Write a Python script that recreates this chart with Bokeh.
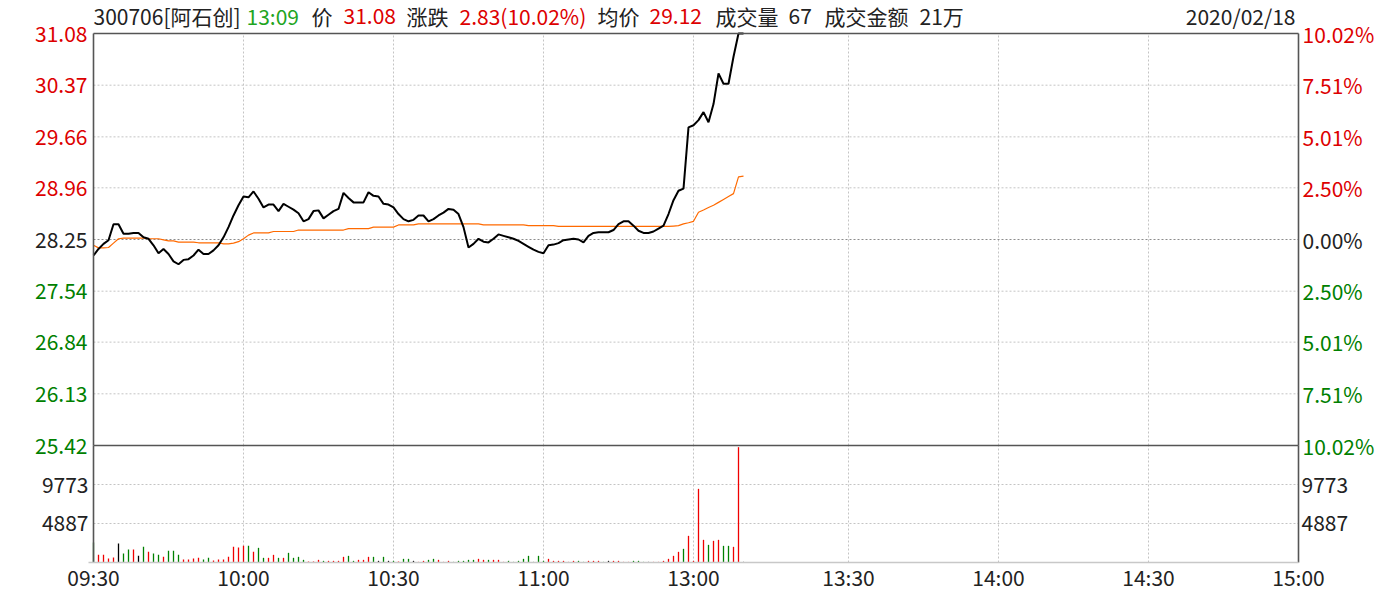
from bokeh.plotting import figure
from bokeh.models import Range1d, ColumnDataSource
from bokeh.core.properties import value
from bokeh.embed import file_html
from bokeh.resources import INLINE

# ---------------- data ----------------
prev_close = 28.25
price_ticks = [31.08, 30.37, 29.66, 28.96, 28.25, 27.54, 26.84, 26.13, 25.42]
price_labels = ["31.08", "30.37", "29.66", "28.96", "28.25", "27.54", "26.84", "26.13", "25.42"]
pct_labels = ["10.02%", "7.51%", "5.01%", "2.50%", "0.00%", "2.50%", "5.01%", "7.51%", "10.02%"]
label_tone = ["up", "up", "up", "up", "flat", "down", "down", "down", "down"]

vol_ticks = [4887, 9773]
vol_tick_labels = ["4887", "9773"]
vol_max = 14660

# minute-slot positions of the time labels (241 slots across the chart)
time_ticks = [0, 30, 60, 90, 120, 151, 181, 211, 241]
time_labels = ["09:30", "10:00", "10:30", "11:00", "13:00", "13:30", "14:00", "14:30", "15:00"]
n_slots = 241

price = [28.03, 28.12, 28.19, 28.24, 28.46, 28.46, 28.33, 28.33, 28.34, 28.34,
         28.28, 28.26, 28.17, 28.06, 28.12, 28.05, 27.95, 27.91, 27.97, 27.98,
         28.03, 28.11, 28.05, 28.05, 28.10, 28.17, 28.28, 28.42, 28.58, 28.72,
         28.84, 28.83, 28.91, 28.81, 28.69, 28.73, 28.73, 28.64, 28.74, 28.70,
         28.66, 28.61, 28.50, 28.53, 28.64, 28.65, 28.54, 28.59, 28.64, 28.67,
         28.89, 28.82, 28.76, 28.76, 28.76, 28.90, 28.85, 28.84, 28.74, 28.73,
         28.69, 28.60, 28.53, 28.50, 28.52, 28.58, 28.58, 28.50, 28.53, 28.58,
         28.62, 28.67, 28.66, 28.60, 28.42, 28.14, 28.19, 28.26, 28.22, 28.21,
         28.26, 28.32, 28.30, 28.28, 28.26, 28.23, 28.19, 28.15, 28.11, 28.08,
         28.06, 28.17, 28.18, 28.20, 28.24, 28.25, 28.26, 28.25, 28.21, 28.30,
         28.34, 28.35, 28.35, 28.35, 28.38, 28.46, 28.50, 28.50, 28.44, 28.37,
         28.34, 28.34, 28.36, 28.40, 28.44, 28.60, 28.79, 28.92, 28.95, 29.79,
         29.82, 29.89, 30.00, 29.86, 30.11, 30.53, 30.39, 30.39, 30.76, 31.08,
         31.08]

avg_price = [28.17, 28.135, 28.135, 28.14, 28.20, 28.26, 28.27, 28.27, 28.27, 28.27,
             28.27, 28.26, 28.26, 28.26, 28.245, 28.23, 28.23, 28.215, 28.215, 28.215,
             28.215, 28.205, 28.205, 28.205, 28.205, 28.205, 28.19, 28.19, 28.20, 28.22,
             28.26, 28.31, 28.34, 28.34, 28.34, 28.34, 28.36, 28.36, 28.36, 28.36,
             28.36, 28.38, 28.38, 28.38, 28.38, 28.38, 28.38, 28.38, 28.38, 28.38,
             28.38, 28.40, 28.40, 28.40, 28.40, 28.40, 28.42, 28.42, 28.42, 28.42,
             28.42, 28.45, 28.45, 28.45, 28.45, 28.465, 28.465, 28.465, 28.465, 28.465,
             28.465, 28.465, 28.465, 28.465, 28.465, 28.465, 28.465, 28.465, 28.45, 28.45,
             28.45, 28.45, 28.45, 28.45, 28.45, 28.45, 28.45, 28.44, 28.44, 28.44,
             28.44, 28.44, 28.44, 28.43, 28.43, 28.43, 28.43, 28.43, 28.43, 28.43,
             28.43, 28.43, 28.43, 28.43, 28.43, 28.43, 28.43, 28.43, 28.43, 28.43,
             28.43, 28.43, 28.43, 28.43, 28.43, 28.43, 28.435, 28.44, 28.465, 28.48,
             28.50, 28.625, 28.655, 28.69, 28.72, 28.76, 28.80, 28.84, 28.88, 29.11,
             29.12]

volume = [2506, 960, 960, 500, 627, 2380, 1128, 1630, 1630, 835,
          1963, 1337, 1128, 960, 710, 1462, 1462, 960, 376, 376,
          500, 585, 376, 585, 250, 376, 376, 710, 1963, 1880,
          2088, 2088, 1337, 1838, 585, 585, 960, 585, 585, 1211,
          585, 710, 334, 125, 125, 334, 209, 209, 209, 209,
          710, 835, 209, 334, 334, 710, 710, 209, 710, 209,
          209, 125, 459, 459, 209, 84, 209, 334, 459, 334,
          84, 209, 84, 209, 209, 334, 334, 459, 334, 334,
          334, 334, 84, 209, 84, 209, 459, 835, 84, 835,
          209, 459, 209, 209, 209, 84, 209, 209, 84, 209,
          209, 209, 84, 209, 209, 209, 84, 84, 209, 209,
          84, 84, 84, 84, 209, 459, 835, 1337, 1713, 3341,
          209, 9230, 2840, 2213, 2715, 2840, 2088, 2088, 1963, 14450,
          84]

vol_dir = ["g", "r", "r", "r", "r", "k", "g", "g", "r", "k",
           "g", "r", "g", "g", "r", "g", "g", "g", "r", "r",
           "r", "r", "g", "g", "r", "r", "r", "r", "r", "r",
           "r", "g", "r", "g", "g", "r", "r", "g", "r", "g",
           "g", "g", "g", "r", "r", "r", "g", "r", "r", "r",
           "r", "g", "g", "r", "r", "r", "g", "k", "g", "k",
           "g", "r", "g", "g", "k", "r", "r", "g", "g", "r",
           "r", "r", "g", "g", "g", "g", "g", "r", "r", "g",
           "r", "r", "r", "g", "g", "g", "g", "g", "g", "g",
           "g", "r", "r", "r", "r", "r", "r", "g", "g", "r",
           "r", "r", "g", "k", "r", "r", "r", "r", "g", "g",
           "g", "k", "r", "r", "r", "r", "r", "r", "g", "r",
           "r", "r", "r", "g", "r", "r", "g", "g", "r", "r",
           "k"]

header_parts = ["300706[阿石创]", "13:09", "价", "31.08", "涨跌", "2.83(10.02%)",
                "均价", "29.12", "成交量", "67", "成交金额", "21万"]
header_tone = ["dark", "time", "dark", "up", "dark", "up",
               "dark", "up", "dark", "dark", "dark", "dark"]
date_text = "2020/02/18"

# ---------------- style / layout ----------------
FONT = value("Noto Sans CJK SC")
FS = value("21px")
RED = "#DD0000"
GREEN = "#008000"
DARK = "#222222"
TIME_GREEN = "#1FA51F"
AXIS = "#555555"
GRID = "#C4C4C4"
tone_color = {"up": RED, "down": GREEN, "flat": DARK, "dark": DARK, "time": TIME_GREEN}
bar_color = {"r": "#F00000", "g": "#008000", "k": "#000000"}
header_px = [93, 246, 311, 343, 406, 459, 597, 649, 715, 788, 824, 919]

W, H = 1385, 592
L, R = 93, 1298               # chart left / right (px)
TOP, SEP, BOT = 33, 445, 562  # price top, panel separator, volume bottom (px)

price_top, price_low = price_ticks[0], price_ticks[-1]
X_END = n_slots
ppm = (R - L) / float(X_END)
ppy = (SEP - TOP) / (price_top - price_low)
ppv = (BOT - SEP) / float(vol_max)

p = figure(width=W, height=H, output_backend="svg", toolbar_location=None,
           x_range=Range1d(-L / ppm, X_END + (W - R) / ppm),
           y_range=Range1d(price_low - (H - SEP) / ppy, price_top + TOP / ppy),
           min_border=0, x_axis_location=None, y_axis_location=None,
           outline_line_color=None, background_fill_color="white",
           border_fill_color="white")
p.extra_y_ranges = {"vol": Range1d(-(H - BOT) / ppv, vol_max + SEP / ppv)}
p.grid.visible = False

# ---- grids ----
gx = time_ticks[1:-1]
p.segment(x0=gx, y0=[price_low] * len(gx), x1=gx, y1=[price_top] * len(gx),
          line_color=GRID, line_dash="2 2", line_width=1)
p.segment(x0=gx, y0=[0] * len(gx), x1=gx, y1=[vol_max] * len(gx),
          line_color=GRID, line_dash="2 2", line_width=1, y_range_name="vol")
gy = [t for t in price_ticks[1:-1] if t != prev_close]
p.segment(x0=[0] * len(gy), y0=gy, x1=[X_END] * len(gy), y1=gy,
          line_color=GRID, line_dash="2 2", line_width=1)
p.segment(x0=[0], y0=[prev_close], x1=[X_END], y1=[prev_close],
          line_color="#8C8C8C", line_dash="2 2", line_width=1)
p.segment(x0=[0] * 2, y0=vol_ticks, x1=[X_END] * 2, y1=vol_ticks,
          line_color=GRID, line_dash="2 2", line_width=1, y_range_name="vol")

# ---- volume bars ----
x_idx = list(range(len(price)))
vsrc = ColumnDataSource(dict(x=x_idx, vol=volume, color=[bar_color[d] for d in vol_dir]))
p.vbar(x="x", top="vol", bottom=0, width=0.26, fill_color="color", line_color=None,
       y_range_name="vol", source=vsrc)

# ---- price & average lines ----
p.line(x_idx, avg_price, line_color="#FF6A00", line_width=1.2)
p.line(x_idx, price, line_color="#000000", line_width=2)

# ---- frame lines ----
p.segment(x0=[0, X_END], y0=[price_low] * 2, x1=[0, X_END], y1=[price_top] * 2,
          line_color=AXIS, line_width=1.6)
p.segment(x0=[0, X_END], y0=[0] * 2, x1=[0, X_END], y1=[vol_max] * 2,
          line_color=AXIS, line_width=1.6, y_range_name="vol")
p.segment(x0=[0] * 2, y0=[price_top, price_low], x1=[X_END] * 2, y1=[price_top, price_low],
          line_color=AXIS, line_width=1.6)
p.segment(x0=[-1], y0=[0], x1=[X_END], y1=[0], line_color="#C8C8C8", line_width=1.6,
          y_range_name="vol")

# ---- tick labels ----
colors = [tone_color[t] for t in label_tone]
lsrc = ColumnDataSource(dict(x=[0] * len(price_ticks), y=price_ticks, text=price_labels, c=colors))
p.text(x="x", y="y", text="text", text_color="c", source=lsrc, x_offset=-6,
       text_align="right", text_baseline="middle", text_font=FONT, text_font_size=FS)
rsrc = ColumnDataSource(dict(x=[X_END] * len(price_ticks), y=price_ticks, text=pct_labels, c=colors))
p.text(x="x", y="y", text="text", text_color="c", source=rsrc, x_offset=4,
       text_align="left", text_baseline="middle", text_font=FONT, text_font_size=FS)

p.text(x=[0] * 2, y=vol_ticks, text=vol_tick_labels, x_offset=-5, text_color=DARK,
       text_align="right", text_baseline="middle", text_font=FONT, text_font_size=FS,
       y_range_name="vol")
p.text(x=[X_END] * 2, y=vol_ticks, text=vol_tick_labels, x_offset=3, text_color=DARK,
       text_align="left", text_baseline="middle", text_font=FONT, text_font_size=FS,
       y_range_name="vol")

p.text(x=time_ticks, y=[0] * len(time_ticks), text=time_labels, y_offset=14,
       text_color=DARK, text_align="center", text_baseline="middle",
       text_font=FONT, text_font_size=FS, y_range_name="vol")

# ---- header line ----
hsrc = ColumnDataSource(dict(x=[0] * len(header_parts), y=[price_top] * len(header_parts),
                             text=header_parts, c=[tone_color[t] for t in header_tone],
                             dx=[hx - L for hx in header_px]))
p.text(x="x", y="y", text="text", text_color="c", x_offset="dx", y_offset=-18,
       text_align="left", text_baseline="middle", text_font=FONT, text_font_size=FS,
       source=hsrc)
p.text(x=[X_END], y=[price_top], text=[date_text], x_offset=-3, y_offset=-18,
       text_color=DARK, text_align="right", text_baseline="middle",
       text_font=FONT, text_font_size=FS)

open("out.html", "w").write(file_html(p, INLINE))
